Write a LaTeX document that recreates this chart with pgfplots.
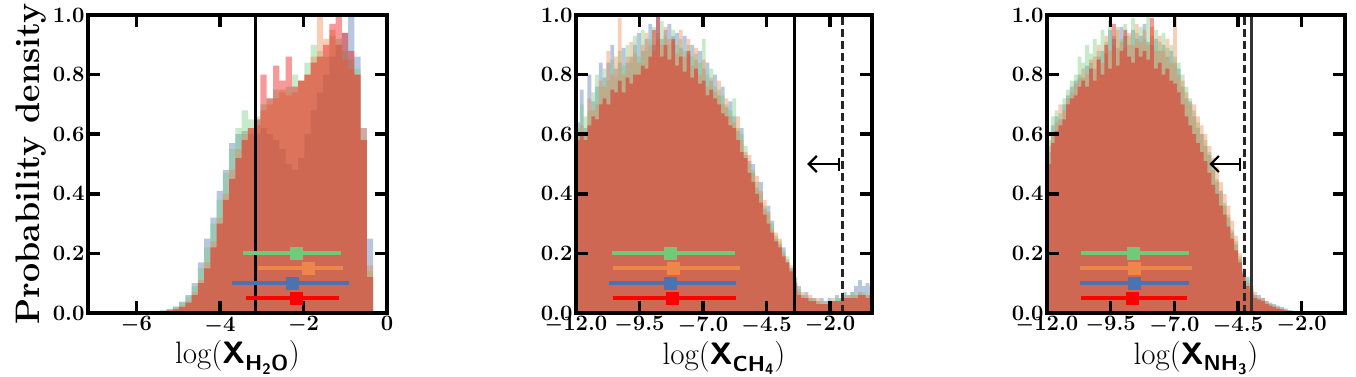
\documentclass[border=0pt]{standalone}
\usepackage{fontspec}
\usepackage{pgfplots}
\usepackage{pgfplotstable}
\pgfplotsset{compat=1.18}
\usetikzlibrary{arrows.meta}

\definecolor{cg}{RGB}{112,202,122}
\definecolor{co}{RGB}{238,133,74}
\definecolor{cb}{RGB}{76,114,176}
\definecolor{cr}{RGB}{235,0,0}
\definecolor{cre}{RGB}{255,0,0}

\newcommand\tl[1]{#1}
\newcommand\mn{{\boldmath$-$}}

% H2O histogram: left bin edge, green, orange, blue, red
\pgfplotstableread{
x g o b r
-6.63 0.003 0.000 0.002 0.000
-6.48 0.002 0.002 0.003 0.001
-6.33 0.004 0.000 0.002 0.001
-6.18 0.002 0.002 0.003 0.002
-6.03 0.003 0.001 0.002 0.001
-5.88 0.004 0.002 0.004 0.002
-5.73 0.004 0.003 0.005 0.003
-5.58 0.006 0.004 0.006 0.004
-5.43 0.008 0.006 0.009 0.005
-5.28 0.012 0.010 0.014 0.008
-5.13 0.020 0.015 0.022 0.012
-4.98 0.035 0.025 0.038 0.020
-4.83 0.055 0.040 0.060 0.035
-4.68 0.09 0.07 0.10 0.06
-4.53 0.15 0.11 0.17 0.10
-4.38 0.22 0.17 0.25 0.15
-4.23 0.30 0.24 0.32 0.22
-4.08 0.38 0.32 0.41 0.30
-3.93 0.47 0.40 0.48 0.38
-3.78 0.55 0.48 0.57 0.45
-3.63 0.62 0.55 0.60 0.52
-3.48 0.68 0.60 0.61 0.58
-3.33 0.65 0.62 0.60 0.62
-3.18 0.66 0.63 0.60 0.65
-3.03 0.70 0.68 0.62 0.80
-2.88 0.72 0.70 0.60 0.72
-2.73 0.75 0.72 0.58 0.83
-2.58 0.74 0.75 0.55 0.78
-2.43 0.76 0.73 0.50 0.86
-2.28 0.80 0.74 0.48 0.76
-2.13 0.78 0.78 0.52 0.78
-1.98 0.84 0.80 0.60 0.80
-1.83 0.90 0.86 0.68 0.84
-1.68 0.88 1.00 0.74 0.86
-1.53 0.86 0.92 0.80 0.90
-1.38 0.93 0.95 0.86 0.97
-1.23 0.92 0.90 0.90 1.00
-1.08 0.88 0.85 0.94 0.94
-0.93 0.85 0.82 1.00 0.88
-0.78 0.82 0.80 0.86 0.80
-0.63 0.58 0.62 0.62 0.58
-0.48 0.14 0.16 0.25 0.12
-0.33 0.14 0.16 0.25 0.12
}\tabA

% CH4 histogram
\pgfplotstableread{
x g o b r
-12.00 0.62 0.60 0.64 0.58
-11.85 0.70 0.63 0.75 0.60
-11.70 0.66 0.60 0.62 0.58
-11.55 0.68 0.72 0.80 0.63
-11.40 0.74 0.68 0.71 0.66
-11.25 0.80 0.70 0.76 0.65
-11.10 0.76 0.78 0.84 0.70
-10.95 0.82 0.76 0.79 0.72
-10.80 0.78 0.88 0.84 0.70
-10.65 0.85 0.80 0.90 0.75
-10.50 0.79 0.86 0.82 0.74
-10.35 0.88 0.99 0.84 0.78
-10.20 0.83 0.80 0.89 0.74
-10.05 0.90 0.86 0.84 0.79
-9.90 0.84 0.91 0.86 0.77
-9.75 0.93 0.87 0.90 0.80
-9.60 0.86 0.84 0.94 0.80
-9.45 0.95 0.90 0.88 0.83
-9.30 0.88 0.94 0.92 0.82
-9.15 0.92 0.90 0.97 0.86
-9.00 0.96 0.88 0.90 0.95
-8.85 0.94 0.92 1.00 1.00
-8.70 0.98 0.90 0.92 0.86
-8.55 0.93 0.96 0.95 0.90
-8.40 0.90 0.92 0.97 0.85
-8.25 0.95 0.91 0.93 0.92
-8.10 0.90 0.87 0.94 0.83
-7.95 0.92 0.95 0.89 0.86
-7.80 0.88 0.86 0.93 0.81
-7.65 0.90 0.92 0.87 0.88
-7.50 0.86 0.83 0.90 0.79
-7.35 0.87 0.89 0.85 0.82
-7.20 0.84 0.80 0.88 0.77
-7.05 0.92 0.85 0.82 0.78
-6.90 0.80 0.76 0.84 0.73
-6.75 0.82 0.79 0.78 0.75
-6.60 0.76 0.74 0.80 0.72
-6.45 0.75 0.78 0.73 0.70
-6.30 0.73 0.70 0.76 0.67
-6.15 0.70 0.72 0.69 0.66
-6.00 0.68 0.66 0.71 0.63
-5.85 0.72 0.64 0.66 0.62
-5.70 0.62 0.66 0.61 0.58
-5.55 0.60 0.58 0.62 0.54
-5.40 0.56 0.54 0.53 0.52
-5.25 0.50 0.53 0.51 0.47
-5.10 0.48 0.47 0.50 0.44
-4.95 0.44 0.46 0.42 0.40
-4.80 0.40 0.41 0.44 0.37
-4.65 0.36 0.38 0.35 0.33
-4.50 0.33 0.34 0.36 0.30
-4.35 0.30 0.28 0.31 0.27
-4.20 0.26 0.27 0.25 0.24
-4.05 0.24 0.25 0.23 0.22
-3.90 0.21 0.20 0.22 0.19
-3.75 0.19 0.18 0.17 0.17
-3.60 0.15 0.16 0.15 0.14
-3.45 0.11 0.10 0.12 0.10
-3.30 0.08 0.07 0.09 0.06
-3.15 0.06 0.07 0.06 0.05
-3.00 0.05 0.06 0.07 0.05
-2.85 0.05 0.06 0.05 0.04
-2.70 0.04 0.05 0.05 0.04
-2.55 0.04 0.05 0.04 0.03
-2.40 0.03 0.04 0.05 0.03
-2.25 0.04 0.03 0.04 0.03
-2.10 0.03 0.04 0.05 0.03
-1.95 0.04 0.05 0.04 0.04
-1.80 0.05 0.04 0.06 0.04
-1.65 0.05 0.04 0.05 0.04
-1.50 0.06 0.05 0.07 0.05
-1.35 0.05 0.06 0.06 0.05
-1.20 0.07 0.06 0.07 0.05
-1.05 0.06 0.06 0.09 0.05
-0.90 0.07 0.07 0.11 0.06
-0.75 0.07 0.06 0.09 0.06
-0.60 0.06 0.06 0.10 0.05
-0.45 0.07 0.06 0.09 0.06
-0.30 0.07 0.06 0.09 0.06
}\tabB

% NH3 histogram
\pgfplotstableread{
x g o b r
-12.00 0.58 0.56 0.54 0.50
-11.85 0.66 0.60 0.63 0.57
-11.70 0.68 0.64 0.66 0.61
-11.55 0.67 0.70 0.65 0.63
-11.40 0.72 0.68 0.70 0.65
-11.25 0.75 0.72 0.73 0.70
-11.10 0.78 0.74 0.76 0.72
-10.95 0.80 0.77 0.78 0.73
-10.80 0.86 0.79 0.80 0.76
-10.65 0.84 0.82 0.79 0.78
-10.50 0.90 0.80 0.83 0.76
-10.35 0.87 0.85 0.84 0.82
-10.20 0.92 0.86 0.82 0.78
-10.05 0.88 0.90 0.86 0.85
-9.90 0.95 0.84 0.88 0.80
-9.75 0.91 0.93 0.87 0.90
-9.60 0.98 0.88 0.95 0.82
-9.45 0.93 0.90 0.92 0.97
-9.30 0.96 0.95 0.89 0.83
-9.15 0.92 0.91 0.96 0.88
-9.00 0.97 0.89 0.93 0.95
-8.85 0.93 0.94 0.90 0.86
-8.70 0.99 0.90 0.95 0.84
-8.55 0.94 0.97 0.92 0.89
-8.40 0.96 0.91 0.93 0.86
-8.25 0.92 0.95 0.97 0.88
-8.10 1.00 0.90 0.91 0.85
-7.95 0.93 0.96 0.90 0.99
-7.80 0.95 0.88 0.92 0.82
-7.65 0.91 0.93 0.88 0.84
-7.50 0.94 0.88 0.90 0.80
-7.35 0.89 0.92 0.86 0.82
-7.20 0.90 0.84 0.88 0.78
-7.05 0.86 1.00 0.84 0.77
-6.90 0.84 0.80 0.82 0.74
-6.75 0.80 0.78 0.76 0.70
-6.60 0.76 0.74 0.72 0.66
-6.45 0.72 0.70 0.71 0.63
-6.30 0.68 0.70 0.66 0.60
-6.15 0.64 0.66 0.62 0.57
-6.00 0.60 0.63 0.60 0.54
-5.85 0.58 0.60 0.56 0.51
-5.70 0.54 0.56 0.53 0.47
-5.55 0.50 0.52 0.48 0.43
-5.40 0.45 0.49 0.44 0.40
-5.25 0.40 0.44 0.41 0.36
-5.10 0.37 0.40 0.36 0.33
-4.95 0.33 0.36 0.32 0.29
-4.80 0.28 0.31 0.27 0.25
-4.65 0.24 0.26 0.23 0.21
-4.50 0.19 0.20 0.18 0.17
-4.35 0.14 0.15 0.14 0.13
-4.20 0.11 0.10 0.12 0.09
-4.05 0.08 0.09 0.08 0.07
-3.90 0.06 0.07 0.06 0.05
-3.75 0.05 0.05 0.06 0.045
-3.60 0.045 0.05 0.05 0.04
-3.45 0.035 0.04 0.04 0.03
-3.30 0.03 0.03 0.035 0.025
-3.15 0.025 0.025 0.03 0.02
-3.00 0.02 0.02 0.025 0.015
-2.85 0.015 0.015 0.02 0.012
-2.70 0.01 0.012 0.015 0.008
-2.55 0.008 0.008 0.01 0.006
-2.40 0.006 0.005 0.008 0.004
-2.25 0.004 0.004 0.006 0.003
-2.10 0.003 0.003 0.005 0.002
-1.95 0.002 0.002 0.004 0.002
-1.80 0.002 0.001 0.003 0.001
-1.65 0.002 0.001 0.003 0.001
}\tabC

\pgfplotsset{
  panel/.style={
    scale only axis,
    anchor=south west,
    height=298pt,
    ymin=0, ymax=1,
    ytick={0,0.2,0.4,0.6,0.8,1},
    yticklabels={\tl{0.0},\tl{0.2},\tl{0.4},\tl{0.6},\tl{0.8},\tl{1.0}},
    axis on top,
    axis line style={line width=4pt},
    tick style={line width=3.5pt, black},
    every tick/.style={line width=3.5pt, black},
    major tick style={line width=3.5pt, black},
    major tick length=12pt,
    tick align=inside,
    tick label style={font=\fontsize{22}{22}\selectfont\bfseries\addfontfeatures{FakeBold=1.5}},
    label style={font=\fontsize{31}{33}\selectfont},
  },
  hist/.style={const plot, draw=none, fill=#1, fill opacity=0.4},
  eb/.style={color=#1, only marks, mark=square*, mark size=6pt,
    error bars/.cd, x dir=both, x explicit, error mark=none,
    error bar style={line width=4pt, #1}},
}

\begin{document}
\begin{tikzpicture}
\useasboundingbox (0,0) rectangle (1356pt,376pt);

% ---------------- panel 1 ----------------
\begin{axis}[panel, at={(88pt,63pt)}, width=299pt,
  xmin=-7.16, xmax=0, xtick={-6,-4,-2,0},
  xticklabels={\tl{\mn6},\tl{\mn4},\tl{\mn2},\tl{0}},
  ylabel={\fontsize{34}{36}\selectfont\bfseries\addfontfeatures{FakeBold=1} Probability density},
  xlabel={log(\textsf{\textbf{X\textsubscript{H\textsubscript{2}O}}})}]
\addplot[hist=cb] table[x=x,y=b] {\tabA} \closedcycle;
\addplot[hist=cg] table[x=x,y=g] {\tabA} \closedcycle;
\addplot[hist=co] table[x=x,y=o] {\tabA} \closedcycle;
\addplot[hist=cr] table[x=x,y=r] {\tabA} \closedcycle;
\addplot[black, line width=3pt] coordinates {(-3.16,0) (-3.16,1)};
\addplot[eb=cg] coordinates {(-2.18,0.20) += (1.08,0) -= (1.28,0)};
\addplot[eb=co] coordinates {(-1.88,0.15) += (0.82,0) -= (1.22,0)};
\addplot[eb=cb] coordinates {(-2.26,0.10) += (1.36,0) -= (1.44,0)};
\addplot[eb=cre] coordinates {(-2.18,0.05) += (1.04,0) -= (1.20,0)};
\end{axis}

% ---------------- panel 2 ----------------
\begin{axis}[panel, at={(576pt,63pt)}, width=296pt,
  xmin=-12, xmax=-0.35, xtick={-12,-9.5,-7,-4.5,-2},
  xticklabels={\tl{\mn12.0},\tl{\mn9.5},\tl{\mn7.0},\tl{\mn4.5},\tl{\mn2.0}},
  xlabel={log(\textsf{\textbf{X\textsubscript{CH\textsubscript{4}}}})}]
\addplot[hist=cb] table[x=x,y=b] {\tabB} \closedcycle;
\addplot[hist=cg] table[x=x,y=g] {\tabB} \closedcycle;
\addplot[hist=co] table[x=x,y=o] {\tabB} \closedcycle;
\addplot[hist=cr] table[x=x,y=r] {\tabB} \closedcycle;
\addplot[black, line width=2.8pt] coordinates {(-3.41,0) (-3.41,1)};
\addplot[black!85, line width=2.8pt, dash pattern=on 8pt off 4pt] coordinates {(-1.5,0) (-1.5,1)};
\addplot[black, line width=2.2pt, arrows={Straight Barb[length=8pt,width=16pt]-Bar[width=13pt]}] coordinates {(-2.90,0.5) (-1.62,0.5)};
\addplot[eb=cg] coordinates {(-8.29,0.20) += (2.54,0) -= (2.30,0)};
\addplot[eb=co] coordinates {(-8.16,0.15) += (2.61,0) -= (2.39,0)};
\addplot[eb=cb] coordinates {(-8.29,0.10) += (2.57,0) -= (2.42,0)};
\addplot[eb=cre] coordinates {(-8.22,0.05) += (2.50,0) -= (2.33,0)};
\end{axis}

% ---------------- panel 3 ----------------
\begin{axis}[panel, at={(1047pt,63pt)}, width=298pt,
  xmin=-12, xmax=-0.3, xtick={-12,-9.5,-7,-4.5,-2},
  xticklabels={\tl{\mn12.0},\tl{\mn9.5},\tl{\mn7.0},\tl{\mn4.5},\tl{\mn2.0}},
  xlabel={log(\textsf{\textbf{X\textsubscript{NH\textsubscript{3}}}})}]
\addplot[hist=cb] table[x=x,y=b] {\tabC} \closedcycle;
\addplot[hist=cg] table[x=x,y=g] {\tabC} \closedcycle;
\addplot[hist=co] table[x=x,y=o] {\tabC} \closedcycle;
\addplot[hist=cr] table[x=x,y=r] {\tabC} \closedcycle;
\addplot[black!80, line width=2.5pt] coordinates {(-3.98,0) (-3.98,1)};
\addplot[black!85, line width=2.8pt, dash pattern=on 8pt off 4pt] coordinates {(-4.25,0) (-4.25,1)};
\addplot[black, line width=2.2pt, arrows={Straight Barb[length=8pt,width=16pt]-Bar[width=13pt]}] coordinates {(-5.63,0.5) (-4.37,0.5)};
\addplot[eb=cg] coordinates {(-8.62,0.20) += (2.19,0) -= (2.06,0)};
\addplot[eb=co] coordinates {(-8.58,0.15) += (2.29,0) -= (2.14,0)};
\addplot[eb=cb] coordinates {(-8.59,0.10) += (2.17,0) -= (2.13,0)};
\addplot[eb=cre] coordinates {(-8.64,0.05) += (2.14,0) -= (2.01,0)};
\end{axis}
\end{tikzpicture}
\end{document}
